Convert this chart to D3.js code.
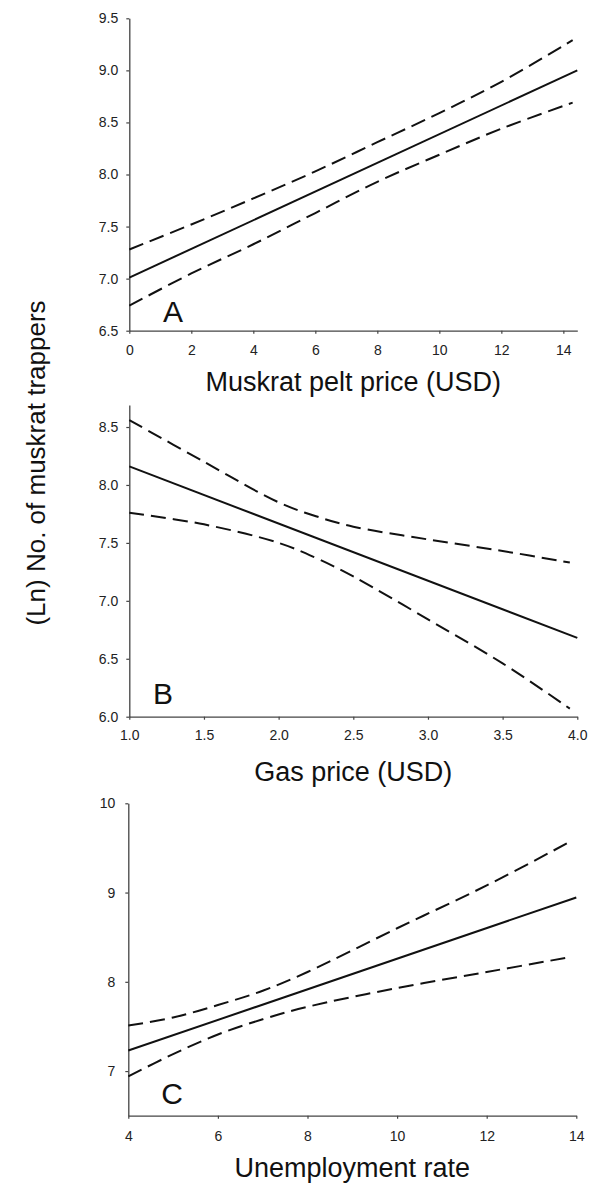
<!DOCTYPE html>
<html>
<head>
<meta charset="utf-8">
<script src="https://cdn.jsdelivr.net/npm/d3@7"></script>
<style>
  html, body { margin: 0; padding: 0; background: #fff; }
  svg { display: block; }
</style>
</head>
<body>
<svg id="chart" width="589" height="1184"></svg>
<script>
// ---- Panel A: Muskrat pelt price ----
const aTicksX = [0, 2, 4, 6, 8, 10, 12, 14];
const aTicksY = [6.5, 7.0, 7.5, 8.0, 8.5, 9.0, 9.5];
const aFitX = [0, 14.45];
const aFit = [7.01, 9.00];
const aBandX = [0, 2, 4, 6, 8, 10, 12, 14.3];
const aUpper = [7.28, 7.52, 7.77, 8.03, 8.31, 8.59, 8.89, 9.29];
const aLower = [6.74, 7.05, 7.33, 7.63, 7.93, 8.19, 8.44, 8.69];

// ---- Panel B: Gas price ----
const bTicksX = [1.0, 1.5, 2.0, 2.5, 3.0, 3.5, 4.0];
const bTicksY = [6.0, 6.5, 7.0, 7.5, 8.0, 8.5];
const bFitX = [1.0, 4.0];
const bFit = [8.16, 6.68];
const bBandX = [1.0, 1.5, 2.0, 2.25, 2.5, 3.0, 3.5, 3.95];
const bUpper = [8.56, 8.20, 7.85, 7.73, 7.64, 7.53, 7.43, 7.33];
const bLower = [7.76, 7.66, 7.50, 7.37, 7.21, 6.84, 6.46, 6.07];

// ---- Panel C: Unemployment rate ----
const cTicksX = [4, 6, 8, 10, 12, 14];
const cTicksY = [7, 8, 9, 10];
const cFitX = [4, 14];
const cFit = [7.23, 8.945];
const cBandX = [4, 5, 6, 7, 8, 10, 12, 13.9];
const cUpper = [7.51, 7.60, 7.74, 7.90, 8.11, 8.60, 9.08, 9.58];
const cLower = [6.94, 7.19, 7.41, 7.58, 7.72, 7.93, 8.11, 8.28];

const labels = ["A", "B", "C"];
const xTitles = ["Muskrat pelt price (USD)", "Gas price (USD)", "Unemployment rate"];
const yTitle = "(Ln) No. of muskrat trappers";

const svg = d3.select("#chart");
const FONT = '"Liberation Sans", Arial, sans-serif';

const panels = [
  { xDom: [0, 14.45], yDom: [6.5, 9.5], xR: [129.3, 577.3], yR: [330.7, 18.3],
    xt: aTicksX, yt: aTicksY, xf: d3.format("d"), yf: d3.format(".1f"),
    fitX: aFitX, fit: aFit, bx: aBandX, up: aUpper, lo: aLower,
    labelPos: [173, 322], titleY: 391, xTickPad: 11, yTickPad: 8 },
  { xDom: [1.0, 4.0], yDom: [6.0, 8.69], xR: [129.3, 577.3], yR: [716.7, 405],
    xt: bTicksX, yt: bTicksY, xf: d3.format(".1f"), yf: d3.format(".1f"),
    fitX: bFitX, fit: bFit, bx: bBandX, up: bUpper, lo: bLower,
    labelPos: [163, 704], titleY: 781, xTickPad: 10, yTickPad: 8 },
  { xDom: [4, 14], yDom: [6.5, 10], xR: [128.3, 576.3], yR: [1115.7, 803.3],
    xt: cTicksX, yt: cTicksY, xf: d3.format("d"), yf: d3.format("d"),
    fitX: cFitX, fit: cFit, bx: cBandX, up: cUpper, lo: cLower,
    labelPos: [172, 1104], titleY: 1177, xTickPad: 12, yTickPad: 10 }
];

panels.forEach((p, i) => {
  const x = d3.scaleLinear().domain(p.xDom).range(p.xR);
  const y = d3.scaleLinear().domain(p.yDom).range(p.yR);
  const g = svg.append("g");

  const xAxis = g.append("g")
    .attr("transform", `translate(0,${p.yR[0]})`)
    .call(d3.axisBottom(x).tickValues(p.xt).tickFormat(p.xf).tickSize(3).tickSizeOuter(0).tickPadding(p.xTickPad));
  const yAxis = g.append("g")
    .attr("transform", `translate(${p.xR[0]},0)`)
    .call(d3.axisLeft(y).tickValues(p.yt).tickFormat(p.yf).tickSize(3).tickSizeOuter(0).tickPadding(p.yTickPad));
  [xAxis, yAxis].forEach(ax => {
    ax.select(".domain").attr("stroke", "#444").attr("stroke-width", 1.3);
    ax.selectAll(".tick line").attr("stroke", "#444").attr("stroke-width", 1.2);
    ax.selectAll(".tick text").style("font-family", FONT).style("font-size", "14px").attr("fill", "#222");
  });

  const line = d3.line().x(d => x(d[0])).y(d => y(d[1])).curve(d3.curveCatmullRom.alpha(0.5));
  const fitData = p.fitX.map((v, k) => [v, p.fit[k]]);
  const upData = p.bx.map((v, k) => [v, p.up[k]]);
  const loData = p.bx.map((v, k) => [v, p.lo[k]]);

  g.append("path").attr("d", line(fitData)).attr("fill", "none")
    .attr("stroke", "#111").attr("stroke-width", 2);
  [upData, loData].forEach(dd => {
    g.append("path").attr("d", line(dd)).attr("fill", "none")
      .attr("stroke", "#111").attr("stroke-width", 2)
      .attr("stroke-dasharray", "15,7");
  });

  g.append("text").attr("x", p.labelPos[0]).attr("y", p.labelPos[1])
    .attr("text-anchor", "middle").style("font-family", FONT).style("font-size", "30px")
    .attr("fill", "#111").text(labels[i]);

  g.append("text").attr("x", (p.xR[0] + p.xR[1]) / 2).attr("y", p.titleY)
    .attr("text-anchor", "middle").style("font-family", FONT).style("font-size", "27px")
    .attr("fill", "#111").text(xTitles[i]);
});

svg.append("text")
  .attr("transform", "translate(45,463) rotate(-90)")
  .attr("text-anchor", "middle")
  .style("font-family", FONT).style("font-size", "26px")
  .attr("fill", "#111").text(yTitle);
</script>
</body>
</html>
